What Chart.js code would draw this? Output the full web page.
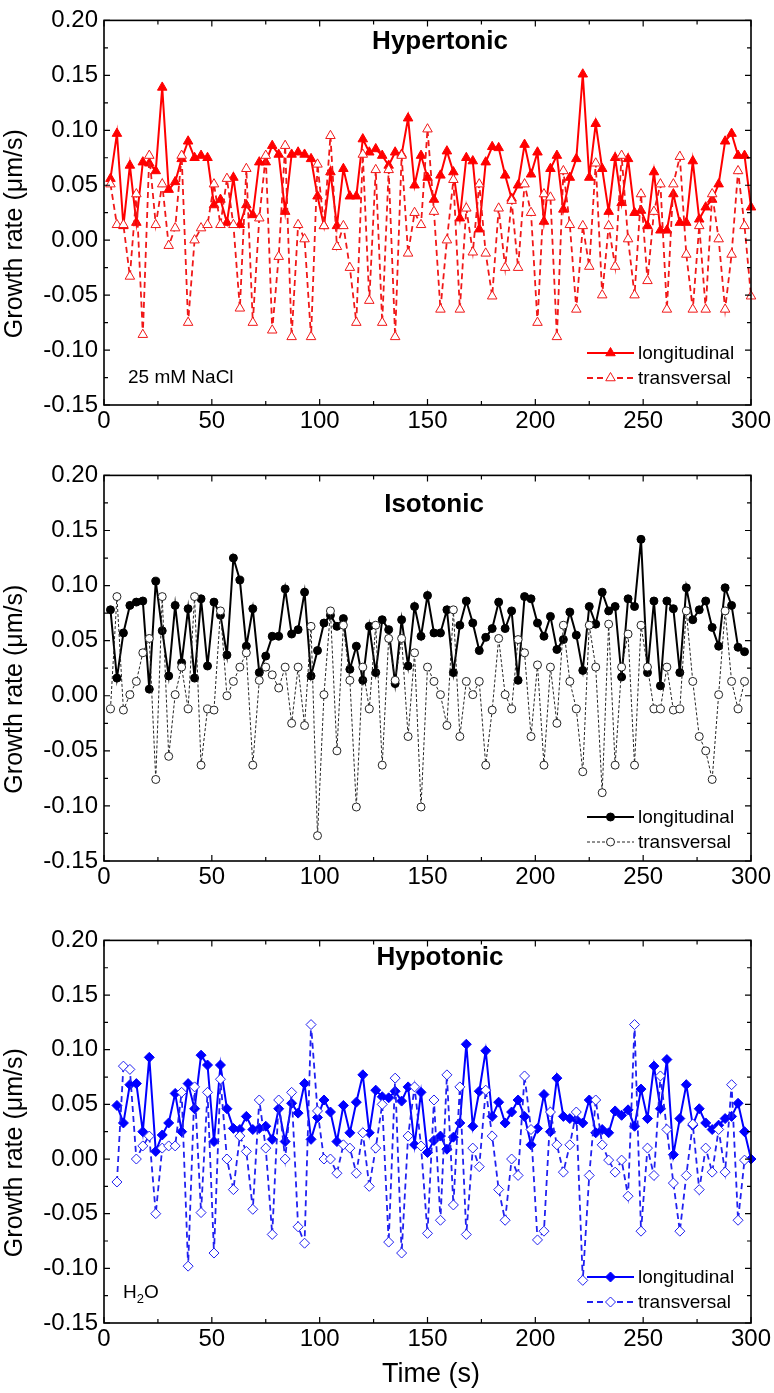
<!DOCTYPE html>
<html>
<head>
<meta charset="utf-8">
<script src="https://cdn.jsdelivr.net/npm/chart.js@4.4.1/dist/chart.umd.min.js"></script>
<style>
  body { margin: 0; background: #fff; }
  #wrap { position: relative; width: 774px; height: 1393px; }
  canvas { position: absolute; left: 0; }
</style>
</head>
<body>
<div id="wrap">
  <canvas id="hyper" width="774" height="455" style="top:0px"></canvas>
  <canvas id="iso" width="774" height="465" style="top:455px"></canvas>
  <canvas id="hypo" width="774" height="473" style="top:920px"></canvas>
</div>
<script>
// sampling times (s)
const time = [3,6,9,12,15,18,21,24,27,30,33,36,39,42,45,48,51,54,57,60,
  63,66,69,72,75,78,81,84,87,90,93,96,99,102,105,108,111,114,117,120,
  123,126,129,132,135,138,141,144,147,150,153,156,159,162,165,168,171,174,177,180,
  183,186,189,192,195,198,201,204,207,210,213,216,219,222,225,228,231,234,237,240,
  243,246,249,252,255,258,261,264,267,270,273,276,279,282,285,288,291,294,297,300];

const xTicks = [0, 50, 100, 150, 200, 250, 300];
const yTicks = [-0.15, -0.10, -0.05, 0, 0.05, 0.10, 0.15, 0.20];

// Hypertonic (25 mM NaCl)
const hyperLong = [0.056,0.097,0.013,0.068,0.016,0.071,0.070,0.063,0.139,0.046,
  0.053,0.074,0.090,0.075,0.077,0.075,0.032,0.037,0.016,0.057,
  0.014,0.032,0.023,0.071,0.071,0.086,0.078,0.026,0.078,0.080,
  0.078,0.074,0.040,0.013,0.062,0.013,0.065,0.040,0.040,0.092,
  0.080,0.083,0.077,0.068,0.080,0.078,0.111,0.050,0.077,0.057,
  0.037,0.059,0.081,0.062,0.020,0.075,0.072,0.010,0.071,0.085,
  0.084,0.059,0.038,0.050,0.087,0.060,0.080,0.017,0.065,0.077,
  0.028,0.057,0.074,0.151,0.057,0.106,0.065,0.026,0.075,0.034,
  0.074,0.025,0.027,0.013,0.062,0.009,0.009,0.042,0.016,0.016,
  0.072,0.019,0.030,0.037,0.051,0.090,0.097,0.077,0.077,0.030];
const hyperTrans = [0.051,0.014,0.014,-0.033,0.042,-0.086,0.077,0.014,0.051,-0.005,
  0.011,0.077,-0.075,0.000,0.011,0.014,0.051,0.014,0.056,0.014,
  -0.062,0.065,-0.075,0.020,0.077,-0.082,-0.015,0.086,-0.088,0.014,
  0.001,-0.088,0.069,0.013,0.095,-0.006,0.013,-0.025,-0.075,0.078,
  -0.055,0.064,-0.075,0.064,-0.088,0.077,-0.012,0.025,0.014,0.101,
  0.026,-0.063,0.000,0.055,-0.063,0.029,-0.011,0.051,-0.012,-0.051,
  0.029,-0.025,0.036,-0.025,0.051,0.025,-0.075,0.042,0.039,-0.088,
  0.063,0.014,-0.063,0.013,-0.024,0.070,-0.050,0.013,-0.024,0.077,
  0.001,-0.050,0.042,-0.037,0.026,0.051,-0.063,0.051,0.076,-0.013,
  -0.063,0.013,-0.063,0.042,0.001,-0.063,-0.013,0.063,0.013,-0.051];

// Isotonic
const isoLong = [0.078,0.016,0.057,0.082,0.085,0.086,0.006,0.104,0.059,0.018,
  0.082,0.030,0.079,0.016,0.088,0.027,0.085,0.073,0.037,0.125,
  0.105,0.045,0.079,0.021,0.036,0.054,0.054,0.097,0.056,0.060,
  0.094,0.018,0.041,0.066,0.073,0.063,0.070,0.024,0.045,0.014,
  0.063,0.021,0.069,0.060,0.011,0.069,0.027,0.081,0.054,0.091,
  0.057,0.057,0.078,0.021,0.064,0.086,0.066,0.041,0.053,0.061,
  0.085,0.061,0.077,0.014,0.090,0.088,0.066,0.054,0.072,0.042,
  0.051,0.076,0.055,0.023,0.081,0.065,0.094,0.077,0.081,0.017,
  0.088,0.081,0.142,0.021,0.086,0.009,0.086,0.079,0.021,0.098,
  0.069,0.078,0.086,0.062,0.045,0.098,0.082,0.044,0.040,null];
const isoTrans = [-0.012,0.090,-0.013,0.001,0.013,0.039,0.052,-0.076,0.090,-0.055,
  0.001,0.026,-0.012,0.090,-0.063,-0.012,-0.013,0.077,0.000,0.013,
  0.026,0.039,-0.063,0.014,0.026,0.019,0.007,0.026,-0.025,0.026,
  -0.027,0.063,-0.127,0.001,0.077,-0.050,0.064,0.014,-0.101,0.026,
  -0.012,0.064,-0.063,0.052,0.014,0.052,-0.037,0.039,-0.101,0.026,
  0.013,0.001,-0.027,0.078,-0.037,0.013,0.001,0.013,-0.063,-0.013,
  0.052,0.001,-0.012,0.051,0.039,-0.037,0.028,-0.063,0.026,-0.025,
  0.064,0.013,-0.012,-0.069,0.064,0.026,-0.088,0.065,-0.063,0.026,
  0.056,-0.063,0.064,0.026,-0.012,-0.012,0.026,-0.013,-0.012,0.077,
  0.013,-0.037,-0.050,-0.076,0.001,0.077,0.013,-0.012,0.013,null];

// Hypotonic (H2O)
const hypoLong = [null,0.049,0.033,0.068,0.069,0.025,0.093,0.007,0.022,0.033,
  0.060,0.025,0.069,0.046,0.095,0.086,0.016,0.086,0.046,0.028,
  0.027,0.039,0.027,0.028,0.030,0.018,0.046,0.016,0.051,0.042,
  0.069,0.018,0.038,0.054,0.043,0.016,0.049,0.024,0.052,0.077,
  0.024,0.063,0.057,0.056,0.062,0.053,0.066,0.013,0.061,0.006,
  0.017,0.021,0.009,0.020,0.033,0.105,0.030,0.062,0.099,0.039,
  0.052,0.033,0.043,0.054,0.039,0.013,0.028,0.059,0.025,0.074,
  0.039,0.037,0.036,0.033,0.054,0.024,0.027,0.024,0.044,0.040,
  0.045,0.030,0.064,0.037,0.085,0.046,0.091,0.004,0.037,0.068,
  0.031,0.046,0.033,0.027,0.031,0.037,0.039,0.051,0.025,0.000];
const hypoTrans = [null,-0.021,0.085,0.082,0.000,0.012,0.021,-0.050,0.010,0.012,
  0.012,0.061,-0.098,0.066,-0.049,0.061,-0.086,0.073,0.000,-0.028,
  0.021,0.007,-0.046,0.054,0.010,-0.069,0.054,0.000,0.061,-0.062,
  -0.077,0.123,0.044,0.000,0.000,-0.013,0.013,0.010,-0.013,0.024,
  -0.025,0.010,0.050,-0.076,0.074,-0.086,0.021,0.066,0.012,-0.068,
  0.054,-0.056,0.077,-0.042,0.066,-0.069,0.010,-0.007,0.063,0.021,
  -0.028,-0.056,0.000,-0.015,0.076,0.027,-0.074,-0.066,0.043,0.013,
  -0.012,0.013,0.043,-0.111,-0.015,0.054,0.013,-0.001,-0.012,-0.001,
  -0.034,0.123,-0.066,0.010,-0.015,0.076,0.027,-0.022,-0.066,-0.015,
  0.032,-0.028,0.010,-0.012,0.027,-0.012,0.068,-0.056,-0.001,null];

const FONT = 'Arial, "Liberation Sans", sans-serif';

function pts(values) {
  return time.map((t, i) => ({ x: t, y: values[i] }));
}

function marker(ctx, style, x, y, r, fill, stroke, lw) {
  ctx.beginPath();
  if (style === 'triangle') {
    ctx.moveTo(x, y - r);
    ctx.lineTo(x + 0.866 * r, y + 0.5 * r);
    ctx.lineTo(x - 0.866 * r, y + 0.5 * r);
    ctx.closePath();
  } else if (style === 'rectRot') {
    ctx.moveTo(x - r, y); ctx.lineTo(x, y - r);
    ctx.lineTo(x + r, y); ctx.lineTo(x, y + r);
    ctx.closePath();
  } else {
    ctx.arc(x, y, r, 0, Math.PI * 2);
  }
  ctx.fillStyle = fill;
  ctx.fill();
  ctx.lineWidth = lw;
  ctx.strokeStyle = stroke;
  ctx.stroke();
}

// frame, inward ticks, titles, legend, notes
const panelDeco = {
  id: 'panelDeco',
  afterDatasetsDraw(chart, args, o) {
    const { ctx, chartArea: a, scales: { x, y } } = chart;
    ctx.save();
    ctx.strokeStyle = '#000';
    ctx.lineWidth = 1.6;
    ctx.strokeRect(a.left, a.top, a.right - a.left, a.bottom - a.top);

    ctx.lineWidth = 1.2;
    ctx.beginPath();
    for (let v = 0; v <= 300; v += 25) {
      const px = x.getPixelForValue(v);
      const len = v % 50 === 0 ? 6 : 4;
      ctx.moveTo(px, a.bottom); ctx.lineTo(px, a.bottom - len);
      ctx.moveTo(px, a.top); ctx.lineTo(px, a.top + len);
    }
    for (let k = -6; k <= 8; k++) {
      const v = k * 0.025;
      const py = y.getPixelForValue(v);
      const len = k % 2 === 0 ? 6 : 4;
      ctx.moveTo(a.left, py); ctx.lineTo(a.left + len, py);
      ctx.moveTo(a.right, py); ctx.lineTo(a.right - len, py);
    }
    ctx.stroke();

    ctx.fillStyle = '#000';
    ctx.textAlign = 'center';
    ctx.textBaseline = 'middle';
    ctx.font = 'bold 26px ' + FONT;
    ctx.fillText(o.title, o.titleX, o.titleY);

    // y axis title
    ctx.save();
    ctx.translate(15, (a.top + a.bottom) / 2 + 21);
    ctx.rotate(-Math.PI / 2);
    ctx.font = '25px ' + FONT;
    ctx.fillText('Growth rate (\u03bcm/s)', 0, 0);
    ctx.restore();

    if (o.xTitle) {
      ctx.font = '27px ' + FONT;
      ctx.fillText(o.xTitle, 431, o.xTitleY);
    }

    // note
    ctx.textAlign = 'left';
    ctx.font = '19px ' + FONT;
    if (o.note === 'H2O') {
      ctx.fillText('H', o.noteX, o.noteY);
      let w = ctx.measureText('H').width;
      ctx.font = '13px ' + FONT;
      ctx.fillText('2', o.noteX + w, o.noteY + 6);
      w += ctx.measureText('2').width;
      ctx.font = '19px ' + FONT;
      ctx.fillText('O', o.noteX + w, o.noteY);
    } else {
      ctx.fillText(o.note, o.noteX, o.noteY);
    }

    // legend
    chart.data.datasets.forEach((ds, i) => {
      const ly = o.legendY + i * 25;
      ctx.save();
      ctx.strokeStyle = ds.borderColor;
      ctx.lineWidth = ds.borderWidth;
      ctx.setLineDash(ds.borderDash || []);
      ctx.beginPath();
      ctx.moveTo(587, ly); ctx.lineTo(634, ly);
      ctx.stroke();
      ctx.restore();
      marker(ctx, ds.pointStyle, 610.5, ly, ds.pointRadius,
        ds.pointBackgroundColor, ds.pointBorderColor, ds.pointBorderWidth);
      ctx.fillStyle = '#000';
      ctx.font = '19px ' + FONT;
      ctx.textBaseline = 'middle';
      ctx.fillText(ds.label, 638, ly + 1);
    });
    ctx.restore();
  }
};

function makePanel(id, cfg) {
  new Chart(document.getElementById(id), {
    type: 'line',
    data: {
      datasets: [
        {
          label: 'longitudinal',
          data: pts(cfg.long),
          order: 1,
          borderColor: cfg.color,
          borderWidth: 2,
          pointStyle: cfg.style,
          pointRadius: cfg.radius,
          pointBackgroundColor: cfg.color,
          pointBorderColor: cfg.color,
          pointBorderWidth: 1,
          tension: 0,
          clip: false
        },
        {
          label: 'transversal',
          data: pts(cfg.trans),
          order: 0,
          borderColor: cfg.transColor,
          borderWidth: cfg.transWidth,
          borderDash: cfg.dash,
          pointStyle: cfg.style,
          pointRadius: cfg.radius,
          pointBackgroundColor: '#ffffff',
          pointBorderColor: cfg.transColor,
          pointBorderWidth: 1,
          tension: 0,
          clip: false
        }
      ]
    },
    options: {
      responsive: false,
      animation: false,
      events: [],
      layout: { autoPadding: false, padding: { top: cfg.top, right: 23, left: 0, bottom: 0 } },
      plugins: {
        legend: { display: false },
        tooltip: { enabled: false },
        panelDeco: cfg.deco
      },
      scales: {
        x: {
          type: 'linear',
          min: 0,
          max: 300,
          grid: { display: false, drawTicks: false },
          border: { display: false },
          afterBuildTicks: (s) => { s.ticks = xTicks.map(v => ({ value: v })); },
          afterFit: (s) => { s.height = cfg.xHeight; },
          ticks: { color: '#000', padding: 2, maxRotation: 0, font: { family: FONT, size: 24 } }
        },
        y: {
          min: -0.15,
          max: 0.20,
          grid: { display: false, drawTicks: false },
          border: { display: false },
          afterBuildTicks: (s) => { s.ticks = yTicks.map(v => ({ value: v })); },
          afterFit: (s) => { s.width = 104; },
          ticks: {
            color: '#000',
            padding: 6,
            font: { family: FONT, size: 24 },
            callback: (v) => Math.abs(v) < 1e-9 ? '0.00' : Number(v).toFixed(2)
          }
        }
      }
    },
    plugins: [panelDeco]
  });
}

makePanel('hyper', {
  long: hyperLong, trans: hyperTrans,
  color: '#ff0000', transColor: '#f01818', transWidth: 1.8, dash: [6, 4],
  style: 'triangle', radius: 5.5, top: 12, xHeight: 50,
  deco: { title: 'Hypertonic', titleX: 440, titleY: 42, note: '25 mM NaCl', noteX: 128, noteY: 378, legendY: 353 }
});

makePanel('iso', {
  long: isoLong, trans: isoTrans,
  color: '#000000', transColor: '#222222', transWidth: 1, dash: [3, 2],
  style: 'circle', radius: 4, top: 18, xHeight: 59,
  deco: { title: 'Isotonic', titleX: 434, titleY: 50, note: '', noteX: 0, noteY: 0, legendY: 362 }
});

makePanel('hypo', {
  long: hypoLong, trans: hypoTrans,
  color: '#0000ff', transColor: '#2020f0', transWidth: 1.8, dash: [6, 4],
  style: 'rectRot', radius: 5, top: 12, xHeight: 70,
  deco: { title: 'Hypotonic', titleX: 440, titleY: 38, note: 'H2O', noteX: 123, noteY: 373, legendY: 357, xTitle: 'Time (s)', xTitleY: 455 }
});
</script>
</body>
</html>
